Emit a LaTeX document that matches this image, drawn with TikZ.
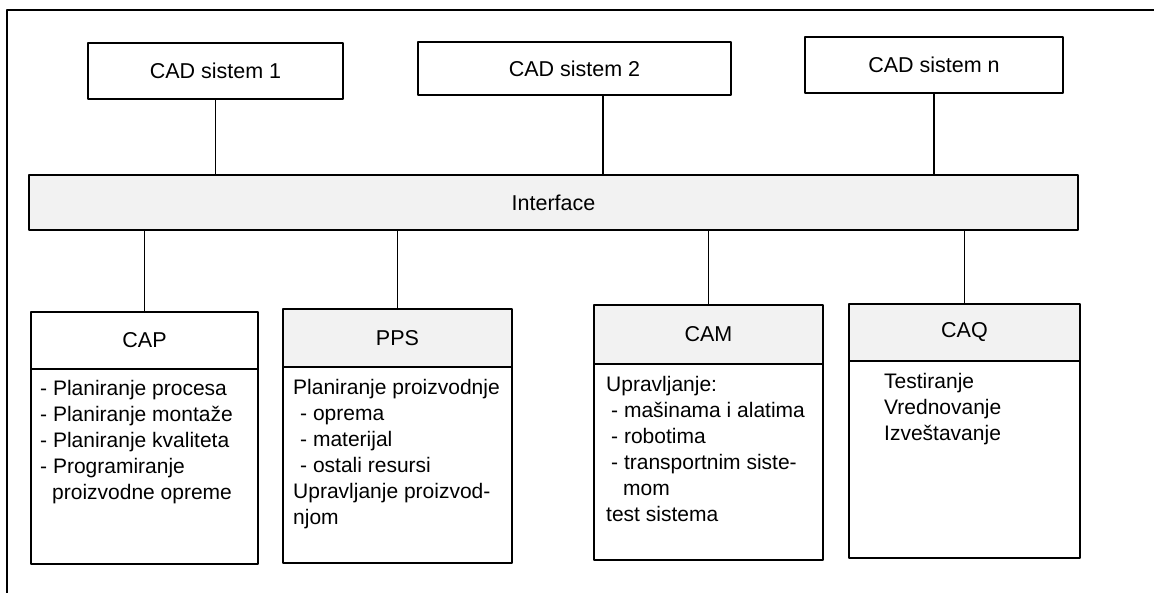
\documentclass[tikz,border=0pt]{standalone}
\usepackage{fontspec}
\setmainfont{Liberation Sans}
\usetikzlibrary{positioning}
\begin{document}
\begin{tikzpicture}[x=1pt,y=-1pt, line join=round, line cap=round,
	cadbox/.style={draw, line width=1.6pt, outer sep=0pt, font=\fontsize{21.5}{25}\selectfont},
	headbox/.style={cadbox, minimum height=57pt},
	bodybox/.style={draw, line width=1.6pt, outer sep=0pt, minimum height=196pt},
	bodytext/.style={anchor=north west, align=left, inner sep=0pt, font=\fontsize{21}{26}\selectfont},
	dotted fill/.style={fill=gray!10},
	link/.style={line width=1.1pt}]
	\useasboundingbox (0,0) rectangle (1154,592);
	% Rahmen
	\draw[line width=1.6pt] (7,600) -- (7,10) -- (1160,10);
	% CAD sistemi
	\node[cadbox, minimum width=255pt, minimum height=56pt] (cad1) at (215.5,71) {CAD sistem 1};
	\node[cadbox, minimum width=313pt, minimum height=53pt] (cad2) at (574.5,68.5) {CAD sistem 2};
	\node[cadbox, minimum width=258pt, minimum height=56pt] (cadn) at (934,65) {CAD sistem n};
	\node[cadbox, dotted fill, minimum width=1049pt, minimum height=55pt] (iface) at (553.5,202.5) {Interface};
	\draw[link] (cad1.south) -- (cad1.south |- iface.north);
	\draw[link] ([xshift=28.5pt]cad2.south) -- ([xshift=28.5pt]cad2.south |- iface.north);
	\draw[link] (cadn.south) -- (cadn.south |- iface.north);
	% moduli
	\node[headbox, minimum width=227pt] (caphead) at (144.5,340.5) {CAP};
	\node[headbox, dotted fill, minimum width=229pt, minimum height=58pt] (ppshead) at (397.5,338) {PPS};
	\node[headbox, dotted fill, minimum width=229pt, minimum height=59pt] (camhead) at (708.5,334.5) {CAM};
	\node[headbox, dotted fill, minimum width=231pt] (caqhead) at (964.5,332.5) {CAQ};
	\node[bodybox, minimum width=227pt, minimum height=195pt, below=0pt of caphead] (capbody) {};
	\node[bodybox, minimum width=229pt, below=0pt of ppshead] (ppsbody) {};
	\node[bodybox, minimum width=229pt, below=0pt of camhead] (cambody) {};
	\node[bodybox, minimum width=231pt, minimum height=197pt, below=0pt of caqhead] (caqbody) {};
	\foreach \m in {cap,pps,cam,caq}
		\draw[link] (\m head.north) -- (\m head.north |- iface.south);
	% tekst
	\node[bodytext] (captext) at ([xshift=9pt,yshift=-11pt]capbody.north west)
		{- Planiranje procesa\\- Planiranje montaže\\- Planiranje kvaliteta\\- Programiranje\\\hspace*{12pt}proizvodne opreme};
	\node[bodytext] (ppstext) at ([xshift=10pt,yshift=-12pt]ppsbody.north west)
		{Planiranje proizvodnje\\\hspace*{7pt}- oprema\\\hspace*{7pt}- materijal\\\hspace*{7pt}- ostali resursi\\Upravljanje proizvod-\\njom};
	\node[bodytext] (camtext) at ([xshift=12pt,yshift=-12pt]cambody.north west)
		{Upravljanje:\\\hspace*{5pt}- mašinama i alatima\\\hspace*{5pt}- robotima\\\hspace*{5pt}- transportnim siste-\\\hspace*{17pt}mom\\test sistema};
	\node[bodytext] (caqtext) at ([xshift=35pt,yshift=-12pt]caqbody.north west)
		{Testiranje\\Vrednovanje\\Izveštavanje};
\end{tikzpicture}
\end{document}
